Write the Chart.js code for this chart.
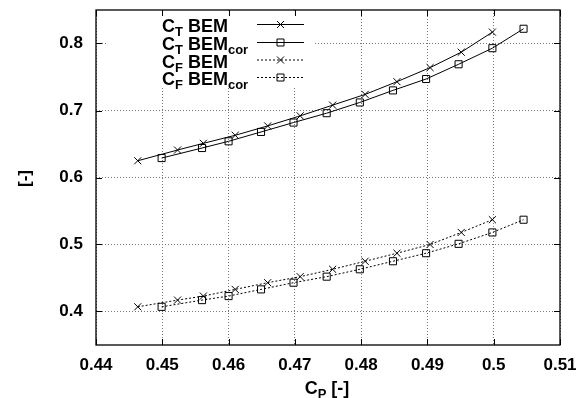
<!DOCTYPE html>
<html>
<head>
<meta charset="utf-8">
<script src="https://cdn.jsdelivr.net/npm/chart.js@4.4.1/dist/chart.umd.min.js"></script>
<style>
  html, body { margin: 0; padding: 0; background: #fff; }
  #wrap { width: 588px; height: 398px; position: relative; }
</style>
</head>
<body>
<div id="wrap"><canvas id="chart"></canvas></div>
<script>
// C_P values for the plain BEM runs and for the corrected runs
var cpBem = [0.4463, 0.4523, 0.4562, 0.4610, 0.4659, 0.4708, 0.4757, 0.4806, 0.4854, 0.4904, 0.4951, 0.4998];
var cpCor = [0.4499, 0.4560, 0.4600, 0.4649, 0.4698, 0.4748, 0.4798, 0.4848, 0.4898, 0.4947, 0.4998, 0.5045];

var ctBem = [0.625, 0.641, 0.651, 0.663, 0.677, 0.692, 0.708, 0.724, 0.743, 0.764, 0.787, 0.817];
var ctCor = [0.629, 0.644, 0.654, 0.668, 0.682, 0.696, 0.712, 0.730, 0.747, 0.769, 0.793, 0.822];
var cfBem = [0.407, 0.417, 0.423, 0.433, 0.443, 0.452, 0.463, 0.475, 0.487, 0.500, 0.518, 0.537];
var cfCor = [0.407, 0.417, 0.423, 0.433, 0.443, 0.452, 0.463, 0.475, 0.487, 0.501, 0.518, 0.537];

var xTicks = [0.44, 0.45, 0.46, 0.47, 0.48, 0.49, 0.50, 0.51];
var yTicks = [0.4, 0.5, 0.6, 0.7, 0.8];

var FONT = "'Liberation Sans', Arial, sans-serif";

function toPoints(xs, ys) {
  return xs.map(function (x, i) { return { x: x, y: ys[i] }; });
}

var legendRows = [
  { main: "C", sub: "T", tail: " BEM", tailSub: "", dash: [], marker: "cross" },
  { main: "C", sub: "T", tail: " BEM", tailSub: "cor", dash: [], marker: "square" },
  { main: "C", sub: "F", tail: " BEM", tailSub: "", dash: [2, 2], marker: "cross" },
  { main: "C", sub: "F", tail: " BEM", tailSub: "cor", dash: [2, 2], marker: "square" }
];

function drawMarker(ctx, kind, x, y) {
  ctx.save();
  ctx.setLineDash([]);
  ctx.lineWidth = 1;
  ctx.strokeStyle = "#000";
  ctx.beginPath();
  if (kind === "cross") {
    ctx.moveTo(x - 3.5, y - 3.5); ctx.lineTo(x + 3.5, y + 3.5);
    ctx.moveTo(x - 3.5, y + 3.5); ctx.lineTo(x + 3.5, y - 3.5);
  } else {
    ctx.rect(x - 3.5, y - 3.5, 7, 7);
  }
  ctx.stroke();
  ctx.restore();
}

// draws "C" + subscript + rest (+ subscript) starting at x, baseline y
function drawSubText(ctx, x, y, main, sub, tail, tailSub, size) {
  var big = "bold " + size + "px " + FONT;
  var small = "bold " + Math.round(size * 0.72) + "px " + FONT;
  ctx.textAlign = "left";
  ctx.textBaseline = "alphabetic";
  ctx.font = big; ctx.fillText(main, x, y); x += ctx.measureText(main).width;
  ctx.font = small; ctx.fillText(sub, x, y + 4); x += ctx.measureText(sub).width;
  ctx.font = big; ctx.fillText(tail, x, y); x += ctx.measureText(tail).width;
  if (tailSub) {
    ctx.font = small; ctx.fillText(tailSub, x, y + 4); x += ctx.measureText(tailSub).width;
  }
  return x;
}

function measureSubText(ctx, main, sub, tail, size) {
  var big = "bold " + size + "px " + FONT;
  var small = "bold " + Math.round(size * 0.72) + "px " + FONT;
  ctx.font = big; var w = ctx.measureText(main).width + ctx.measureText(tail).width;
  ctx.font = small; w += ctx.measureText(sub).width;
  return w;
}

var framePlugin = {
  id: "frame",
  beforeDatasetsDraw: function (chart) {
    var ctx = chart.ctx;
    // opaque legend box hides the grid behind it
    ctx.save();
    ctx.fillStyle = "#fff";
    ctx.fillRect(108, 11, 207, 76);
    ctx.restore();
  },
  afterDraw: function (chart) {
    var ctx = chart.ctx;
    var a = chart.chartArea;
    var xs = chart.scales.x, ys = chart.scales.y;
    ctx.save();
    ctx.strokeStyle = "#000";
    ctx.lineWidth = 1.3;
    ctx.setLineDash([]);
    ctx.strokeRect(a.left, a.top, a.right - a.left, a.bottom - a.top);

    ctx.lineWidth = 1;
    ctx.beginPath();
    xTicks.forEach(function (v) {
      var px = Math.round(xs.getPixelForValue(v)) + 0.5;
      ctx.moveTo(px, a.bottom); ctx.lineTo(px, a.bottom - 6);
      ctx.moveTo(px, a.top); ctx.lineTo(px, a.top + 6);
    });
    yTicks.forEach(function (v) {
      var py = Math.round(ys.getPixelForValue(v)) + 0.5;
      ctx.moveTo(a.left, py); ctx.lineTo(a.left + 6, py);
      ctx.moveTo(a.right, py); ctx.lineTo(a.right - 6, py);
    });
    ctx.stroke();

    // legend
    ctx.fillStyle = "#000";
    var baselines = [32, 50, 67.5, 85];
    legendRows.forEach(function (row, i) {
      var by = baselines[i];
      drawSubText(ctx, 162, by, row.main, row.sub, row.tail, row.tailSub, 18);
      var ly = by - 7.5;
      ctx.save();
      ctx.strokeStyle = "#000";
      ctx.lineWidth = 1;
      ctx.setLineDash(row.dash);
      ctx.beginPath();
      ctx.moveTo(257, ly); ctx.lineTo(304, ly);
      ctx.stroke();
      ctx.restore();
      drawMarker(ctx, row.marker, 280.5, ly);
    });

    // x title: C_P [-]
    var w = measureSubText(ctx, "C", "P", " [-]", 18);
    drawSubText(ctx, 327 - w / 2, 394, "C", "P", " [-]", "", 18);

    // y title: [-]
    ctx.translate(25, 178.5);
    ctx.rotate(-Math.PI / 2);
    ctx.font = "bold 17px " + FONT;
    ctx.textAlign = "center";
    ctx.textBaseline = "middle";
    ctx.fillText("[-]", 0, 0);
    ctx.restore();
  }
};

function lineSet(label, xs, ys, style, dash) {
  return {
    label: label,
    data: toPoints(xs, ys),
    showLine: true,
    borderColor: "#000",
    backgroundColor: "rgba(0,0,0,0)",
    borderWidth: 1,
    borderDash: dash,
    pointStyle: style,
    pointRadius: 5,
    pointBorderWidth: 1,
    pointBorderColor: "#000",
    pointBackgroundColor: "rgba(0,0,0,0)",
    tension: 0
  };
}

var tickFont = { family: FONT, size: 17, weight: "bold" };

new Chart(document.getElementById("chart"), {
  type: "scatter",
  data: {
    datasets: [
      lineSet("CT BEM", cpBem, ctBem, "crossRot", []),
      lineSet("CT BEMcor", cpCor, ctCor, "rect", []),
      lineSet("CF BEM", cpBem, cfBem, "crossRot", [2, 2]),
      lineSet("CF BEMcor", cpCor, cfCor, "rect", [2, 2])
    ]
  },
  options: {
    responsive: true,
    maintainAspectRatio: false,
    animation: false,
    layout: { autoPadding: false, padding: { left: 0, top: 10, right: 28, bottom: 0 } },
    plugins: {
      legend: { display: false },
      tooltip: { enabled: false }
    },
    scales: {
      x: {
        type: "linear",
        min: 0.44,
        max: 0.51,
        afterBuildTicks: function (s) { s.ticks = xTicks.map(function (v) { return { value: v }; }); },
        afterFit: function (s) {
          s.height = 53;
          s.paddingLeft = 0; s.paddingRight = 0;
        },
        grid: { color: "#777", lineWidth: 1, drawTicks: false },
        border: { display: false, dash: [1, 2] },
        ticks: {
          color: "#000",
          font: tickFont,
          padding: 10,
          maxRotation: 0,
          autoSkip: false,
          callback: function (v) { return String(Number(v.toFixed(2))); }
        }
      },
      y: {
        type: "linear",
        min: 0.35,
        max: 0.85,
        afterBuildTicks: function (s) { s.ticks = yTicks.map(function (v) { return { value: v }; }); },
        afterFit: function (s) {
          s.width = 96;
          s.paddingTop = 0; s.paddingBottom = 0;
        },
        grid: { color: "#777", lineWidth: 1, drawTicks: false },
        border: { display: false, dash: [1, 2] },
        ticks: {
          color: "#000",
          font: tickFont,
          padding: 13,
          autoSkip: false,
          callback: function (v) { return String(Number(v.toFixed(1))); }
        }
      }
    }
  },
  plugins: [framePlugin]
});
</script>
</body>
</html>
